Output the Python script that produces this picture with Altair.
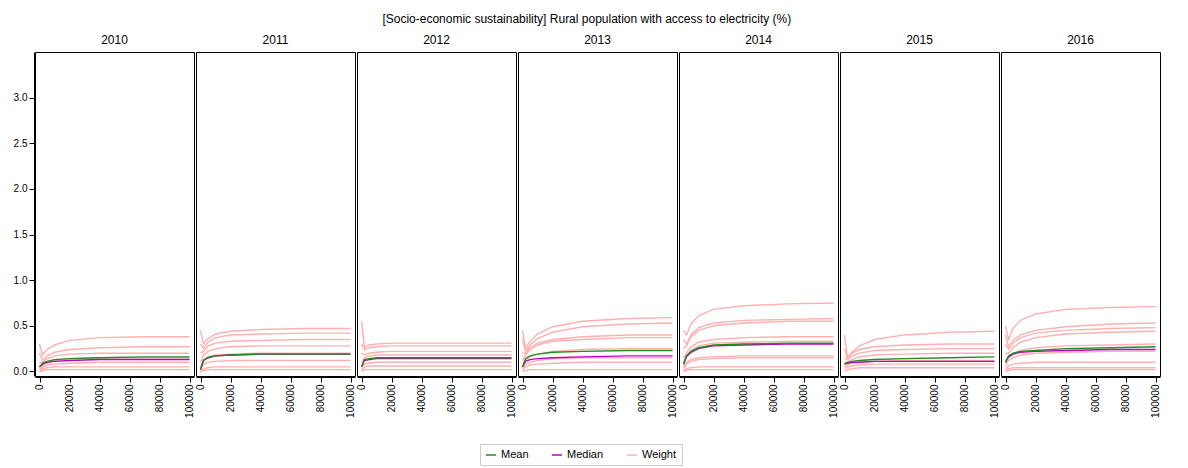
import altair as alt
import pandas as pd

years = [2010, 2011, 2012, 2013, 2014, 2015, 2016]
xs = [0, 2000, 5000, 10000, 20000, 40000, 70000, 100000]

mean = {
    2010: [0.05, 0.09, 0.11, 0.13, 0.14, 0.15, 0.16, 0.16],
    2011: [0.02, 0.12, 0.15, 0.17, 0.18, 0.19, 0.19, 0.19],
    2012: [0.05, 0.13, 0.14, 0.15, 0.15, 0.15, 0.15, 0.15],
    2013: [0.05, 0.14, 0.17, 0.19, 0.21, 0.22, 0.23, 0.23],
    2014: [0.08, 0.17, 0.22, 0.26, 0.29, 0.30, 0.31, 0.31],
    2015: [0.08, 0.10, 0.11, 0.12, 0.13, 0.14, 0.15, 0.16],
    2016: [0.10, 0.17, 0.20, 0.22, 0.23, 0.25, 0.26, 0.27],
}
median = {
    2010: [0.05, 0.08, 0.10, 0.11, 0.12, 0.13, 0.13, 0.13],
    2011: [0.02, 0.12, 0.15, 0.17, 0.18, 0.19, 0.19, 0.19],
    2012: [0.05, 0.12, 0.13, 0.14, 0.14, 0.14, 0.14, 0.14],
    2013: [0.05, 0.11, 0.13, 0.14, 0.15, 0.16, 0.17, 0.17],
    2014: [0.08, 0.16, 0.21, 0.25, 0.28, 0.29, 0.30, 0.30],
    2015: [0.08, 0.09, 0.10, 0.10, 0.11, 0.11, 0.11, 0.11],
    2016: [0.10, 0.16, 0.19, 0.21, 0.22, 0.23, 0.24, 0.24],
}
weights = {
    2010: [[0.30, 0.18, 0.24, 0.29, 0.34, 0.37, 0.38, 0.38],
           [0.20, 0.12, 0.17, 0.21, 0.24, 0.26, 0.27, 0.27],
           [0.10, 0.10, 0.14, 0.17, 0.19, 0.20, 0.20, 0.20],
           [0.05, 0.07, 0.10, 0.12, 0.14, 0.15, 0.15, 0.15],
           [0.02, 0.05, 0.07, 0.08, 0.09, 0.10, 0.10, 0.10],
           [0.00, 0.03, 0.04, 0.05, 0.05, 0.05, 0.05, 0.05],
           [0.00, 0.01, 0.02, 0.02, 0.02, 0.02, 0.02, 0.02]],
    2011: [[0.45, 0.30, 0.36, 0.41, 0.44, 0.46, 0.47, 0.47],
           [0.30, 0.25, 0.32, 0.37, 0.40, 0.41, 0.42, 0.42],
           [0.20, 0.22, 0.28, 0.31, 0.33, 0.34, 0.35, 0.35],
           [0.10, 0.18, 0.22, 0.25, 0.27, 0.28, 0.28, 0.28],
           [0.05, 0.13, 0.16, 0.18, 0.19, 0.20, 0.20, 0.20],
           [0.02, 0.08, 0.10, 0.11, 0.12, 0.12, 0.12, 0.12],
           [0.00, 0.03, 0.04, 0.05, 0.05, 0.05, 0.05, 0.05],
           [0.00, 0.01, 0.02, 0.02, 0.02, 0.02, 0.02, 0.02]],
    2012: [[0.55, 0.26, 0.29, 0.30, 0.31, 0.31, 0.31, 0.31],
           [0.30, 0.24, 0.26, 0.27, 0.28, 0.28, 0.28, 0.28],
           [0.20, 0.18, 0.20, 0.21, 0.22, 0.22, 0.22, 0.22],
           [0.10, 0.15, 0.17, 0.18, 0.18, 0.18, 0.18, 0.18],
           [0.05, 0.08, 0.09, 0.10, 0.10, 0.10, 0.10, 0.10],
           [0.02, 0.05, 0.06, 0.06, 0.06, 0.06, 0.06, 0.06],
           [0.00, 0.02, 0.02, 0.02, 0.02, 0.02, 0.02, 0.02]],
    2013: [[0.45, 0.25, 0.33, 0.41, 0.49, 0.55, 0.58, 0.59],
           [0.35, 0.22, 0.29, 0.36, 0.43, 0.49, 0.52, 0.53],
           [0.20, 0.20, 0.26, 0.31, 0.35, 0.38, 0.40, 0.40],
           [0.12, 0.18, 0.24, 0.29, 0.33, 0.35, 0.37, 0.37],
           [0.08, 0.12, 0.16, 0.19, 0.22, 0.24, 0.25, 0.25],
           [0.04, 0.08, 0.10, 0.12, 0.14, 0.15, 0.15, 0.15],
           [0.02, 0.05, 0.07, 0.08, 0.09, 0.10, 0.10, 0.10],
           [0.00, 0.01, 0.02, 0.02, 0.02, 0.02, 0.02, 0.02]],
    2014: [[0.45, 0.40, 0.52, 0.61, 0.68, 0.72, 0.74, 0.75],
           [0.35, 0.30, 0.40, 0.48, 0.53, 0.56, 0.57, 0.58],
           [0.25, 0.28, 0.38, 0.45, 0.50, 0.53, 0.55, 0.55],
           [0.15, 0.20, 0.27, 0.32, 0.35, 0.37, 0.38, 0.38],
           [0.10, 0.17, 0.23, 0.28, 0.31, 0.32, 0.33, 0.33],
           [0.05, 0.10, 0.13, 0.15, 0.16, 0.17, 0.17, 0.17],
           [0.03, 0.08, 0.11, 0.13, 0.14, 0.15, 0.15, 0.15],
           [0.01, 0.03, 0.04, 0.05, 0.05, 0.05, 0.05, 0.05],
           [0.00, 0.01, 0.02, 0.02, 0.02, 0.02, 0.02, 0.02]],
    2015: [[0.40, 0.15, 0.21, 0.28, 0.35, 0.40, 0.43, 0.44],
           [0.25, 0.15, 0.20, 0.24, 0.27, 0.29, 0.30, 0.30],
           [0.15, 0.13, 0.17, 0.20, 0.23, 0.24, 0.25, 0.25],
           [0.10, 0.10, 0.13, 0.16, 0.18, 0.19, 0.20, 0.20],
           [0.05, 0.07, 0.09, 0.10, 0.11, 0.12, 0.12, 0.12],
           [0.03, 0.05, 0.06, 0.07, 0.08, 0.08, 0.08, 0.08],
           [0.00, 0.02, 0.03, 0.04, 0.04, 0.04, 0.04, 0.04]],
    2016: [[0.50, 0.35, 0.47, 0.56, 0.63, 0.68, 0.70, 0.71],
           [0.40, 0.27, 0.34, 0.40, 0.45, 0.49, 0.52, 0.53],
           [0.30, 0.24, 0.31, 0.37, 0.42, 0.45, 0.47, 0.48],
           [0.20, 0.20, 0.26, 0.32, 0.37, 0.41, 0.43, 0.44],
           [0.12, 0.15, 0.19, 0.23, 0.26, 0.28, 0.29, 0.30],
           [0.06, 0.12, 0.15, 0.18, 0.20, 0.21, 0.22, 0.22],
           [0.03, 0.06, 0.08, 0.09, 0.10, 0.10, 0.10, 0.10],
           [0.01, 0.03, 0.04, 0.04, 0.04, 0.04, 0.04, 0.04],
           [0.00, 0.01, 0.02, 0.02, 0.02, 0.02, 0.02, 0.02]],
}

rows = []
for yr in years:
    for i, ws in enumerate(weights[yr]):
        for x, v in zip(xs, ws):
            rows.append(dict(year=str(yr), line=f"w{i}", kind="Weight", x=x, y=v, order=0))
    for x, v in zip(xs, median[yr]):
        rows.append(dict(year=str(yr), line="median", kind="Median", x=x, y=v, order=1))
    for x, v in zip(xs, mean[yr]):
        rows.append(dict(year=str(yr), line="mean", kind="Mean", x=x, y=v, order=2))
df = pd.DataFrame(rows)

color = alt.Color("kind:N", title=None,
                  scale=alt.Scale(domain=["Mean", "Median", "Weight"],
                                  range=["#228b22", "#c000c0", "#ffb0b0"]),
                  legend=alt.Legend(orient="none", direction="horizontal", legendX=445, legendY=392,
                                    symbolType="stroke", labelFontSize=11, columnPadding=20,
                                    strokeColor="#cccccc", padding=5))

base = alt.Chart().mark_line(strokeWidth=1.4).encode(
    x=alt.X("x:Q", title=None, scale=alt.Scale(domain=[-3000, 103000], nice=False),
            axis=alt.Axis(values=[0, 20000, 40000, 60000, 80000, 100000], labelAngle=-90,
                          grid=False, labelFontSize=10, format="d")),
    y=alt.Y("y:Q", title=None, scale=alt.Scale(domain=[-0.05, 3.5], nice=False),
            axis=alt.Axis(values=[0, 0.5, 1, 1.5, 2, 2.5, 3], format=".1f", grid=False, labelFontSize=10)),
    color=color,
    detail="line:N",
    order=alt.Order("order:Q"),
)

chart = base.properties(width=159, height=324).facet(
    data=df,
    column=alt.Column("year:N", title=None,
                      header=alt.Header(labelFontSize=12, labelOrient="top", labelColor="black", labelPadding=4)),
).properties(
    title=alt.TitleParams("[Socio-economic sustainability] Rural population with access to electricity (%)",
                          fontSize=12, fontWeight="normal", anchor="middle", offset=8)
).configure_facet(spacing=0).configure_view(stroke="black").configure_axis(
    domainColor="black", tickColor="black", labelColor="black")

chart.save("out.html", embed_options={"renderer": "svg", "actions": False})
